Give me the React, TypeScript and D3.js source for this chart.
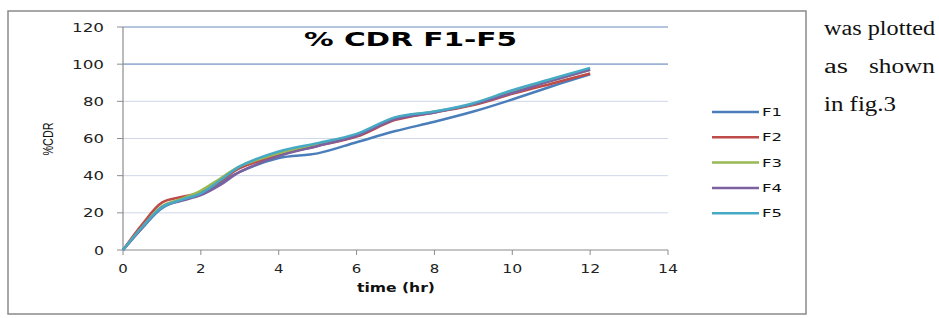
import React from 'react';
import * as d3 from 'd3';

// time points (hr)
const times = [0, 0.5, 1, 1.5, 2, 2.5, 3, 4, 5, 6, 7, 8, 9, 10, 11, 12];

// %CDR per formulation
const f1 = [0, 12, 22.5, 27, 30, 36, 42, 49.5, 52, 58, 64, 69, 74.5, 81, 88, 94.5];
const f2 = [0, 14, 25.5, 28.5, 31, 37, 44, 51, 56, 61, 70, 74, 78, 84, 89.5, 95];
const f3 = [0, 12.5, 23.5, 27.5, 32, 38.5, 45, 52, 57, 62, 71, 74.5, 78.5, 85, 91, 97];
const f4 = [0, 12, 23, 26.5, 29.5, 35, 42, 50.5, 56, 61.5, 70.5, 74, 78.5, 84.5, 91, 97];
const f5 = [0, 12.5, 23, 27, 30.5, 37.5, 45, 53, 57.5, 62.5, 71.5, 74.5, 79, 86, 92, 98];

const seriesNames = ['F1', 'F2', 'F3', 'F4', 'F5'];
const seriesValues = [f1, f2, f3, f4, f5];
const colors = ['#4a7ebb', '#be4b48', '#98b954', '#7d60a0', '#46aac5'];

const xTicks = [0, 2, 4, 6, 8, 10, 12, 14];
const yTicks = [0, 20, 40, 60, 80, 100, 120];

const W = 939;
const H = 318;
const plot = { left: 123, right: 668, top: 27, bottom: 250 };

const x = d3.scaleLinear().domain([0, 14]).range([plot.left, plot.right]);
const y = d3.scaleLinear().domain([0, 120]).range([plot.bottom, plot.top]);

const line = d3.line<number>()
    .x((_, i) => x(times[i]))
    .y((d) => y(d))
    .curve(d3.curveCatmullRom.alpha(0.5));

const tickFont = "'DejaVu Sans', sans-serif";
const serif = "'Liberation Serif', 'Times New Roman', serif";

const App = () => {
    return (
        <svg
            width={W}
            height={H}
            style={{ position: 'absolute', left: 0, top: 0, background: '#fff' }}
        >
            {/* chart frame */}
            <rect x={8} y={11} width={798} height={303} fill="#fff" stroke="#8a8a8a" strokeWidth={1.5} />

            {/* gridlines */}
            {yTicks.filter((t) => t > 0).map((t) => (
                <line
                    key={'g' + t}
                    x1={plot.left}
                    x2={plot.right}
                    y1={y(t)}
                    y2={y(t)}
                    stroke={t >= 100 ? '#9db2d4' : '#cfd7e8'}
                    strokeWidth={t >= 100 ? 1.6 : 1}
                />
            ))}

            {/* axes */}
            <line x1={plot.left} x2={plot.left} y1={plot.top} y2={plot.bottom} stroke="#8c8c8c" strokeWidth={1.2} />
            <line x1={plot.left} x2={plot.right} y1={plot.bottom} y2={plot.bottom} stroke="#8c8c8c" strokeWidth={1.2} />

            {yTicks.map((t) => (
                <g key={'y' + t}>
                    <line x1={plot.left - 6} x2={plot.left} y1={y(t)} y2={y(t)} stroke="#8c8c8c" />
                    <text
                        x={104}
                        y={y(t) + 4.5}
                        textAnchor="end"
                        fontFamily={tickFont}
                        fontSize={12}
                        textLength={String(t).length * 11 - 1}
                        lengthAdjust="spacingAndGlyphs"
                        fill="#222"
                    >
                        {t}
                    </text>
                </g>
            ))}

            {xTicks.map((t) => (
                <g key={'x' + t}>
                    <line x1={x(t)} x2={x(t)} y1={plot.bottom} y2={plot.bottom + 5} stroke="#8c8c8c" />
                    <text
                        x={x(t)}
                        y={272.5}
                        textAnchor="middle"
                        fontFamily={tickFont}
                        fontSize={12}
                        textLength={String(t).length * 10.5 - 1}
                        lengthAdjust="spacingAndGlyphs"
                        fill="#222"
                    >
                        {t}
                    </text>
                </g>
            ))}

            {/* series */}
            {seriesValues.map((vals, i) => (
                <path
                    key={seriesNames[i]}
                    d={line(vals) || ''}
                    fill="none"
                    stroke={colors[i]}
                    strokeWidth={2.5}
                    strokeLinejoin="round"
                />
            ))}

            {/* title */}
            <text
                x={410.5}
                y={46}
                textAnchor="middle"
                fontFamily={tickFont}
                fontWeight="bold"
                fontSize={20}
                textLength={213}
                lengthAdjust="spacingAndGlyphs"
                fill="#000"
            >
                % CDR F1-F5
            </text>

            {/* axis titles */}
            <text
                x={396}
                y={292}
                textAnchor="middle"
                fontFamily={tickFont}
                fontWeight="bold"
                fontSize={12}
                textLength={78}
                lengthAdjust="spacingAndGlyphs"
                fill="#111"
            >
                time (hr)
            </text>
            <text
                transform="translate(53,139) rotate(-90)"
                textAnchor="middle"
                fontFamily="'Liberation Sans Narrow', 'Liberation Sans', sans-serif"
                fontSize={15}
                textLength={33}
                lengthAdjust="spacingAndGlyphs"
                fill="#111"
            >
                %CDR
            </text>

            {/* legend */}
            {seriesNames.map((name, i) => (
                <g key={'l' + name} transform={`translate(0, ${112 + i * 25.3})`}>
                    <line x1={712} x2={759} y1={0} y2={0} stroke={colors[i]} strokeWidth={2.5} />
                    <text
                        x={762}
                        y={4}
                        fontFamily={tickFont}
                        fontSize={10}
                        textLength={20}
                        lengthAdjust="spacingAndGlyphs"
                        fill="#111"
                    >
                        {name}
                    </text>
                </g>
            ))}

            {/* surrounding document text */}
            <text x={824} y={35} fontFamily={serif} fontSize={20} fill="#111" textLength={111} lengthAdjust="spacingAndGlyphs">was plotted</text>
            <text x={824} y={73} fontFamily={serif} fontSize={20} fill="#111" textLength={24} lengthAdjust="spacingAndGlyphs">as</text>
            <text x={935} y={73} fontFamily={serif} fontSize={20} fill="#111" textAnchor="end" textLength={66} lengthAdjust="spacingAndGlyphs">shown</text>
            <text x={824} y={111} fontFamily={serif} fontSize={20} fill="#111" textLength={72} lengthAdjust="spacingAndGlyphs">in fig.3</text>
        </svg>
    );
};

export default App;
